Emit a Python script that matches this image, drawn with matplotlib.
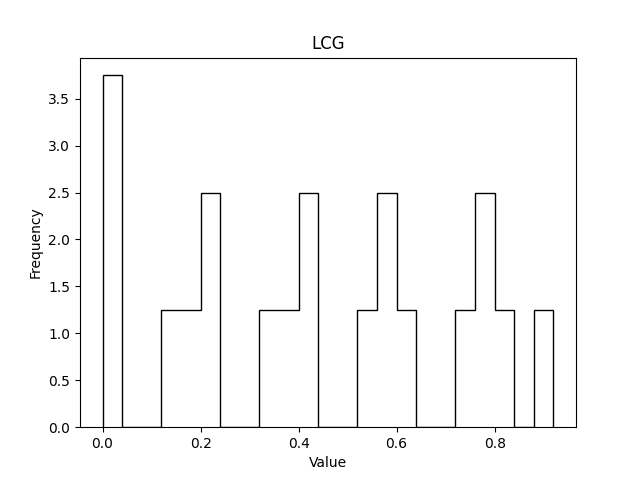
import numpy as np
import matplotlib
matplotlib.use('Agg')
import matplotlib.pyplot as plt

# LCG samples (20 values)
values = [0.0, 0.01, 0.02,
          0.14, 0.18, 0.21, 0.22,
          0.33, 0.37, 0.41, 0.42,
          0.53, 0.57, 0.58, 0.62,
          0.73, 0.77, 0.78, 0.82,
          0.92]
n_bins = 23

fig, ax = plt.subplots(figsize=(6.4, 4.8), dpi=100)
ax.hist(values, bins=n_bins, density=True, histtype='step', color='black')
ax.set_title('LCG')
ax.set_xlabel('Value')
ax.set_ylabel('Frequency')
fig.savefig('out.png')
